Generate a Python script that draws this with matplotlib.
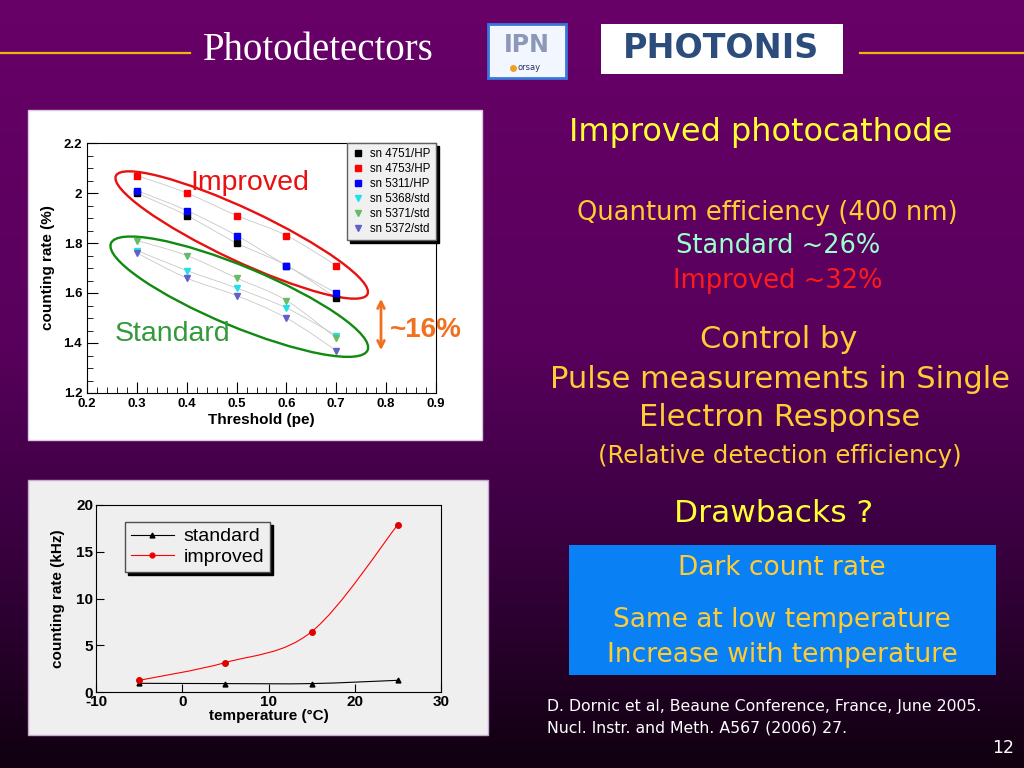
import numpy as np
import matplotlib
matplotlib.use('Agg')
import matplotlib.pyplot as plt
from matplotlib.colors import LinearSegmentedColormap
from matplotlib.patches import Ellipse, Rectangle, PathPatch
from matplotlib.path import Path
from matplotlib.lines import Line2D
import matplotlib.ticker as tkr

W, H = 1024, 768

# top chart: counting rate (%) vs threshold (pe)
threshold = [0.3, 0.4, 0.5, 0.6, 0.7]
sn4751_hp  = [2.00, 1.91, 1.80, 1.71, 1.58]
sn4753_hp  = [2.07, 2.00, 1.91, 1.83, 1.71]
sn5311_hp  = [2.01, 1.93, 1.83, 1.71, 1.60]
sn5368_std = [1.77, 1.69, 1.62, 1.54, 1.43]
sn5371_std = [1.81, 1.75, 1.66, 1.57, 1.42]
sn5372_std = [1.76, 1.66, 1.59, 1.50, 1.37]

# bottom chart: dark count rate (kHz) vs temperature
temperature = [-5, 5, 15, 25]
rate_standard = [0.93, 0.90, 0.90, 1.25]
rate_improved = [1.25, 3.15, 6.45, 17.9]


def rect(x0, y0, x1, y1):
    # image pixel box -> figure fraction
    return [x0 / W, 1 - y1 / H, (x1 - x0) / W, (y1 - y0) / H]


def smooth_path(xs, ys):
    # catmull-rom through the points, drawn as bezier segments
    pts = np.column_stack([xs, ys]).astype(float)
    n = len(pts)
    verts = [pts[0]]
    codes = [Path.MOVETO]
    for i in range(n - 1):
        p0 = pts[i - 1] if i > 0 else pts[i]
        p1 = pts[i]
        p2 = pts[i + 1]
        p3 = pts[i + 2] if i + 2 < n else pts[i + 1]
        verts += [p1 + (p2 - p0) / 6.0, p2 - (p3 - p1) / 6.0, p2]
        codes += [Path.CURVE4] * 3
    return Path(verts, codes)


plt.rcParams['axes.unicode_minus'] = False

fig = plt.figure(figsize=(10.24, 7.68), dpi=100)

#### slide background
bg = fig.add_axes([0, 0, 1, 1])
cmap = LinearSegmentedColormap.from_list('slide', [(0.0, '#680068'), (0.45, '#58005c'),
                                                   (0.75, '#34003a'), (1.0, '#100010')])
grad = np.linspace(0, 1, 256).reshape(-1, 1)
bg.imshow(grad, aspect='auto', cmap=cmap, extent=[0, W, H, 0])
bg.set_xlim(0, W)
bg.set_ylim(H, 0)
bg.set_axis_off()

# title + rules + logos
bg.plot([0, 190], [53, 53], color='#e8b810', lw=1.6)
bg.plot([860, W], [53, 53], color='#e8b810', lw=1.6)
bg.text(318, 51, 'Photodetectors', color='white', fontsize=28, family='Liberation Serif',
        ha='center', va='center')

bg.add_patch(Rectangle((488, 24), 78, 54, facecolor='#f2f6ff', edgecolor='#3a78d8', lw=2))
bg.text(527, 45, 'IPN', color='#8c98b8', fontsize=17, fontweight='bold', ha='center', va='center')
bg.text(529, 68, 'orsay', color='#303060', fontsize=6, ha='center', va='center')
bg.plot([513], [68], marker='o', color='#f0a020', ms=4)
bg.add_patch(Rectangle((601, 24), 242, 50, facecolor='white', edgecolor='none'))
bg.text(721, 49, 'PHOTONIS', color='#2c4c7c', fontsize=24, fontweight='heavy', ha='center', va='center')

# panels
bg.add_patch(Rectangle((28, 110), 454, 330, facecolor='white', edgecolor='#d8c8e0', lw=1))
bg.add_patch(Rectangle((28, 480), 460, 255, facecolor='#efefef', edgecolor='#c8a8d0', lw=1))

# right column text
col = 'DejaVu Sans'
bg.text(761, 133, 'Improved photocathode', color='#ffff33', fontsize=23, family=col, ha='center', va='center')
bg.text(767, 213, 'Quantum efficiency (400 nm)', color='#ffcc33', fontsize=18.5, family=col, ha='center', va='center')
bg.text(778, 246, 'Standard ~26%', color='#99ffcc', fontsize=18.5, family=col, ha='center', va='center')
bg.text(778, 281, 'Improved ~32%', color='#ff1a1a', fontsize=18.5, family=col, ha='center', va='center')
bg.text(779, 339, 'Control by', color='#ffcc33', fontsize=22, family=col, ha='center', va='center')
bg.text(780, 379, 'Pulse measurements in Single', color='#ffcc33', fontsize=22, family=col, ha='center', va='center')
bg.text(780, 418, 'Electron Response', color='#ffcc33', fontsize=22, family=col, ha='center', va='center')
bg.text(780, 456, '(Relative detection efficiency)', color='#ffcc33', fontsize=17.5, family=col, ha='center', va='center')
bg.text(774, 513, 'Drawbacks ?', color='#ffff33', fontsize=22.5, family=col, ha='center', va='center')

bg.add_patch(Rectangle((569, 545), 427, 130, facecolor='#0a80f5', edgecolor='none'))
bg.text(782, 568, 'Dark count rate', color='#ffcc33', fontsize=19, family=col, ha='center', va='center')
bg.text(782, 620, 'Same at low temperature', color='#ffcc33', fontsize=19, family=col, ha='center', va='center')
bg.text(782, 655, 'Increase with temperature', color='#ffcc33', fontsize=19, family=col, ha='center', va='center')

bg.text(547, 706, 'D. Dornic et al, Beaune Conference, France, June 2005.', color='white', fontsize=11.3,
        family=col, ha='left', va='center')
bg.text(547, 728, 'Nucl. Instr. and Meth. A567 (2006) 27.', color='white', fontsize=11.3,
        family=col, ha='left', va='center')
bg.text(1014, 748, '12', color='white', fontsize=12.5, family=col, ha='right', va='center')

#### top chart
plt.rcParams['font.family'] = ['Liberation Sans', 'DejaVu Sans']
ax = fig.add_axes(rect(87, 143, 436, 393))
ax.set_facecolor('white')

series = [(sn4751_hp, 's', 'black', 'sn 4751/HP'),
          (sn4753_hp, 's', 'red', 'sn 4753/HP'),
          (sn5311_hp, 's', 'blue', 'sn 5311/HP'),
          (sn5368_std, 'v', '#22e0e8', 'sn 5368/std'),
          (sn5371_std, 'v', '#66bb66', 'sn 5371/std'),
          (sn5372_std, 'v', '#6060c8', 'sn 5372/std')]

for vals, mk, c, lab in series:
    ax.add_patch(PathPatch(smooth_path(threshold, vals), facecolor='none', edgecolor='#c8c8c8', lw=0.6))
for vals, mk, c, lab in series:
    ax.plot(threshold, vals, ls='none', marker=mk, color=c, ms=4.2, label=lab)

ax.set_xlim(0.2, 0.9)
ax.set_ylim(1.2, 2.2)
ax.xaxis.set_major_locator(plt.MultipleLocator(0.1))
ax.xaxis.set_minor_locator(plt.MultipleLocator(0.02))
ax.yaxis.set_major_locator(plt.MultipleLocator(0.2))
ax.yaxis.set_minor_locator(plt.MultipleLocator(0.05))
ax.yaxis.set_major_formatter(tkr.FormatStrFormatter('%g'))
ax.tick_params(which='both', direction='in', labelsize=9.5)
ax.tick_params(which='major', length=8, width=0.8)
ax.tick_params(which='minor', length=4, width=0.6)
for lab in ax.get_xticklabels() + ax.get_yticklabels():
    lab.set_fontweight('bold')
ax.set_xlabel('Threshold (pe)', fontsize=11, fontweight='bold', labelpad=2)
ax.set_ylabel('counting rate (%)', fontsize=11, fontweight='bold', labelpad=6)

leg = ax.legend(loc='upper right', bbox_to_anchor=(1.0, 1.0), borderaxespad=0, fontsize=8.3,
                frameon=True, fancybox=False, handlelength=1.0, handletextpad=0.6,
                labelspacing=0.25, borderpad=0.45,
                shadow={'color': 'black', 'alpha': 1.0})
leg.get_frame().set_facecolor('#f0f0f0')
leg.get_frame().set_edgecolor('#606060')
leg.get_frame().set_alpha(1.0)

# group ellipses and labels, placed in slide pixels
ax.add_artist(Ellipse((241.7, 235), 278, 52, angle=25.2, transform=bg.transData,
                      facecolor='none', edgecolor='#e81010', lw=1.7, clip_on=False))
ax.add_artist(Ellipse((239.3, 296.7), 278, 60, angle=22.6, transform=bg.transData,
                      facecolor='none', edgecolor='#108a10', lw=1.7, clip_on=False))
ax.text(190, 190, 'Improved', color='#e81010', fontsize=20.5, transform=bg.transData, va='baseline')
ax.text(115, 341, 'Standard', color='#33993a', fontsize=20.5, transform=bg.transData, va='baseline')
ax.annotate('', xy=(381, 296), xytext=(381, 353), xycoords=bg.transData, textcoords=bg.transData,
            arrowprops=dict(arrowstyle='<->', color='#f07020', lw=2, mutation_scale=12),
            annotation_clip=False)
ax.text(390, 330, '~16%', color='#f07020', fontsize=20, fontweight='bold', transform=bg.transData,
        va='center', clip_on=False)

#### bottom chart
ax2 = fig.add_axes(rect(96, 505, 441, 692))
ax2.set_facecolor('#efefef')
ax2.add_patch(PathPatch(smooth_path(temperature, rate_standard), facecolor='none', edgecolor='black', lw=0.8))
ax2.add_patch(PathPatch(smooth_path(temperature, rate_improved), facecolor='none', edgecolor='red', lw=0.8))
ax2.plot(temperature, rate_standard, ls='none', marker='^', color='black', ms=3.5)
ax2.plot(temperature, rate_improved, ls='none', marker='o', color='#e00000', ms=4)

ax2.set_xlim(-10, 30)
ax2.set_ylim(0, 20)
ax2.xaxis.set_major_locator(plt.MultipleLocator(10))
ax2.yaxis.set_major_locator(plt.MultipleLocator(5))
ax2.tick_params(which='both', direction='in', labelsize=11, length=6, pad=2)
for lab in ax2.get_xticklabels() + ax2.get_yticklabels():
    lab.set_fontweight('bold')
ax2.set_xlabel('temperature (°C)', fontsize=11, fontweight='bold', labelpad=0)
ax2.set_ylabel('counting rate (kHz)', fontsize=11, fontweight='bold', labelpad=8)

handles = [Line2D([], [], color='black', lw=0.8, marker='^', ms=3.5),
           Line2D([], [], color='red', lw=0.8, marker='o', ms=3.5, mfc='#e00000')]
leg2 = ax2.legend(handles, ['standard', 'improved'], loc='upper left', bbox_to_anchor=(0.084, 0.909),
                  borderaxespad=0, fontsize=14, frameon=True, fancybox=False, handlelength=2.2,
                  handletextpad=0.5, labelspacing=0.15, borderpad=0.3,
                  shadow={'color': 'black', 'alpha': 1.0})
leg2.get_frame().set_facecolor('#efefef')
leg2.get_frame().set_edgecolor('#505050')
leg2.get_frame().set_alpha(1.0)

fig.savefig('out.png', dpi=100)
